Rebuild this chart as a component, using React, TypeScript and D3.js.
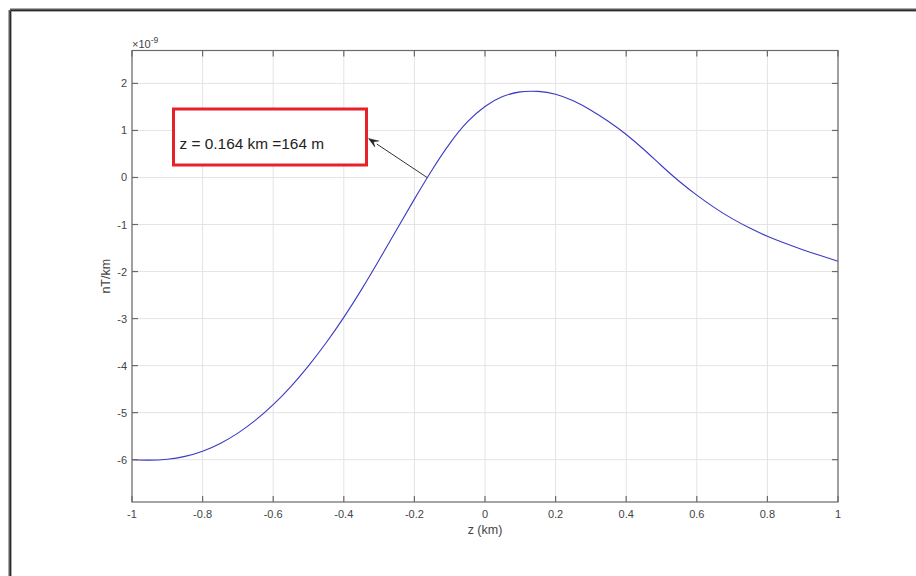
import React from "react";
import * as d3 from "d3";

const zValues = [-1, -0.95, -0.9, -0.85, -0.8, -0.75, -0.7, -0.65, -0.6, -0.55, -0.5, -0.45, -0.4, -0.35, -0.3, -0.25, -0.2, -0.15, -0.1, -0.05, 0, 0.05, 0.1, 0.15, 0.2, 0.25, 0.3, 0.35, 0.4, 0.45, 0.5, 0.55, 0.6, 0.65, 0.7, 0.75, 0.8, 0.85, 0.9, 0.95, 1];
const gradValues = [-6.0, -6.01, -5.99, -5.93, -5.82, -5.655, -5.435, -5.16, -4.83, -4.445, -4.005, -3.515, -2.975, -2.385, -1.755, -1.105, -0.46, 0.16, 0.72, 1.18, 1.51, 1.72, 1.82, 1.83, 1.77, 1.63, 1.43, 1.19, 0.915, 0.595, 0.25, -0.08, -0.375, -0.64, -0.875, -1.075, -1.25, -1.40, -1.535, -1.66, -1.78];
const xTicks = [-1, -0.8, -0.6, -0.4, -0.2, 0, 0.2, 0.4, 0.6, 0.8, 1];
const yTicks = [-6, -5, -4, -3, -2, -1, 0, 1, 2];
const xDomain: [number, number] = [-1, 1];
const yDomain: [number, number] = [-6.9, 2.7];
const annotationText = "z = 0.164 km =164 m";
const annotationPoint = { z: -0.164, v: 0 };
const xLabel = "z (km)";
const yLabel = "nT/km";

const W = 916;
const H = 576;
const left = 132;
const right = 838;
const top = 50.5;
const bottom = 502;
const font = "'Liberation Sans', Arial, Helvetica, sans-serif";

export default function App() {
  const x = d3.scaleLinear().domain(xDomain).range([left, right]);
  const y = d3.scaleLinear().domain(yDomain).range([bottom, top]);
  const pts = zValues.map((z, i) => [z, gradValues[i]] as [number, number]);
  const line = d3
    .line<[number, number]>()
    .x((d) => x(d[0]))
    .y((d) => y(d[1]))
    .curve(d3.curveNatural);
  const axisColor = "#6a6a6a";
  const gridColor = "#e4e4e4";
  const labelColor = "#444";
  const tick = 6;

  const ax = x(annotationPoint.z);
  const ay = y(annotationPoint.v);
  const tipX = 368.5;
  const tipY = 138.5;
  const ang = Math.atan2(tipY - ay, tipX - ax);
  const hl = 10;
  const hw = 3.6;
  const bx = tipX - hl * Math.cos(ang);
  const by = tipY - hl * Math.sin(ang);
  const px = -Math.sin(ang);
  const py = Math.cos(ang);
  const head = `M${tipX},${tipY} L${bx + px * hw},${by + py * hw} L${tipX - 0.6 * hl * Math.cos(ang)},${tipY - 0.6 * hl * Math.sin(ang)} L${bx - px * hw},${by - py * hw} Z`;

  return (
    <svg
      width={W}
      height={H}
      style={{ position: "absolute", left: 0, top: 0, display: "block", background: "#fff" }}
    >
      <rect x={0} y={0} width={W} height={H} fill="#fff" />
      {/* outer frame (top and left) */}
      <line x1={10} y1={10} x2={W} y2={10} stroke="#5a5a5a" strokeWidth={3} />
      <line x1={10} y1={10} x2={10} y2={H} stroke="#5a5a5a" strokeWidth={3} />
      <line x1={11} y1={10.5} x2={W} y2={10.5} stroke="#2a2a2a" strokeWidth={1} />
      <line x1={10.5} y1={11} x2={10.5} y2={H} stroke="#2a2a2a" strokeWidth={1} />

      {/* grid */}
      {xTicks.map((t) => (
        <line key={"gx" + t} x1={x(t)} x2={x(t)} y1={top} y2={bottom} stroke={gridColor} strokeWidth={1} />
      ))}
      {yTicks.map((t) => (
        <line key={"gy" + t} x1={left} x2={right} y1={y(t)} y2={y(t)} stroke={gridColor} strokeWidth={1} />
      ))}

      {/* curve */}
      <path d={line(pts) || ""} fill="none" stroke="#3a3ac4" strokeWidth={1.1} />

      {/* axes box */}
      <rect x={left} y={top} width={right - left} height={bottom - top} fill="none" stroke={axisColor} strokeWidth={1.2} />
      {xTicks.map((t) => (
        <g key={"tx" + t}>
          <line x1={x(t)} x2={x(t)} y1={bottom} y2={bottom - tick} stroke={axisColor} strokeWidth={1.2} />
          <line x1={x(t)} x2={x(t)} y1={top} y2={top + tick} stroke={axisColor} strokeWidth={1.2} />
          <text x={x(t)} y={518} textAnchor="middle" fontFamily={font} fontSize={11} fill={labelColor}>
            {String(t)}
          </text>
        </g>
      ))}
      {yTicks.map((t) => (
        <g key={"ty" + t}>
          <line x1={left} x2={left + tick} y1={y(t)} y2={y(t)} stroke={axisColor} strokeWidth={1.2} />
          <line x1={right} x2={right - tick} y1={y(t)} y2={y(t)} stroke={axisColor} strokeWidth={1.2} />
          <text x={127} y={y(t) + 4} textAnchor="end" fontFamily={font} fontSize={11} fill={labelColor}>
            {String(t)}
          </text>
        </g>
      ))}

      {/* exponent */}
      <text x={132} y={47.5} fontFamily={font} fontSize={11} fill={labelColor}>
        {"\u00d710"}
        <tspan dy={-5} fontSize={8.5}>
          -9
        </tspan>
      </text>

      {/* axis labels */}
      <text x={(left + right) / 2} y={534} textAnchor="middle" fontFamily={font} fontSize={12.5} fill={labelColor}>
        {xLabel}
      </text>
      <text
        transform={`translate(109.5,${(top + bottom) / 2}) rotate(-90)`}
        textAnchor="middle"
        fontFamily={font}
        fontSize={12.5}
        fill={labelColor}
      >
        {yLabel}
      </text>

      {/* annotation */}
      <line x1={ax} y1={ay} x2={bx} y2={by} stroke="#333" strokeWidth={1} />
      <path d={head} fill="#222" stroke="#222" strokeWidth={0.5} />
      <rect x={173.5} y={109} width={193} height={56} fill="#fff" stroke="#e8202a" strokeWidth={3} />
      <text x={179.5} y={148.5} fontFamily={font} fontSize={15.4} fill="#222">
        {annotationText}
      </text>
    </svg>
  );
}
